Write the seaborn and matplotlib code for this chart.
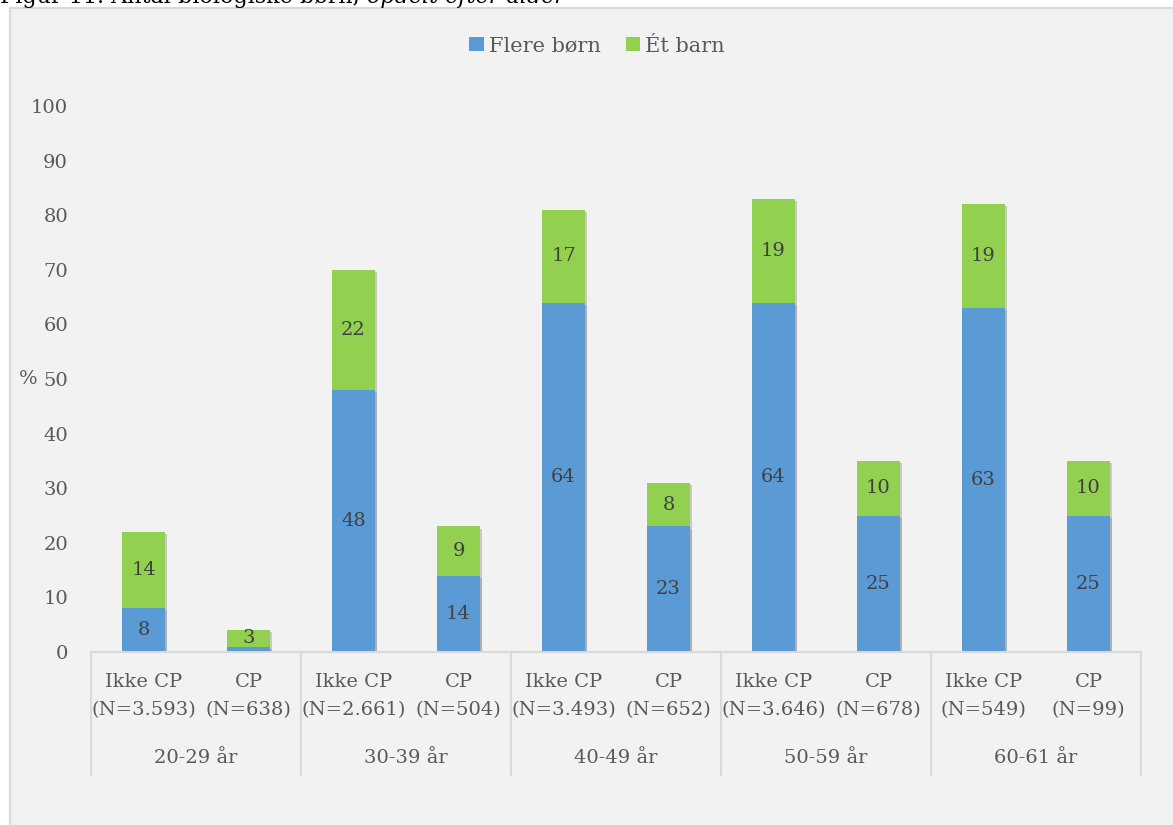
import matplotlib
matplotlib.use("Agg")
import matplotlib.pyplot as plt
import matplotlib.patheffects as pe
from matplotlib.patches import Patch, Rectangle
from matplotlib.lines import Line2D
import pandas as pd
import seaborn as sns

# ---- data -------------------------------------------------------------
age_groups = ["20-29 år", "30-39 år", "40-49 år", "50-59 år", "60-61 år"]
status = ["Ikke CP", "CP"]
n_labels = ["(N=3.593)", "(N=638)", "(N=2.661)", "(N=504)", "(N=3.493)",
            "(N=652)", "(N=3.646)", "(N=678)", "(N=549)", "(N=99)"]
flere_born = [8, 1, 48, 14, 64, 23, 64, 25, 63, 25]
et_barn = [14, 3, 22, 9, 17, 8, 19, 10, 19, 10]
y_ticks = [0, 10, 20, 30, 40, 50, 60, 70, 80, 90, 100]
series_names = ["Flere børn", "Ét barn"]
title_plain = "Figur 11. Antal biologiske børn, "
title_italic = "opdelt efter alder"

# ---- style ------------------------------------------------------------
BLUE = "#5B9BD5"
GREEN = "#92D050"
TEXT = "#595959"
LABEL = "#404040"
GRID = "#D9D9D9"
BG = "#F2F2F2"
FS = 14

sns.set_theme(style="white")
plt.rcParams["font.family"] = ["DejaVu Serif"]

slots = [f"{g}|{s}" for g in age_groups for s in status]
df = pd.DataFrame({
    "slot": slots,
    "flere": flere_born,
    "et": et_barn,
})
df["total"] = df["flere"] + df["et"]

W, H = 1173, 825
fig = plt.figure(figsize=(W / 100, H / 100), dpi=100, facecolor="white")

# chart area panel (behind the axes)
panel = Rectangle((10 / W, -0.01), 1.0, (H - 8) / H + 0.01,
                  transform=fig.transFigure, facecolor=BG,
                  edgecolor=GRID, linewidth=1.5, zorder=-10)
fig.patches.append(panel)

ax = fig.add_axes([91 / W, (H - 652) / H, 1050 / W, (652 - 106) / H])
ax.set_facecolor(BG)
ax.set_zorder(1)

shadow = [pe.SimplePatchShadow(offset=(1.5, -1.5), shadow_rgbFace="#7f7f7f",
                               alpha=0.35), pe.Normal()]

# stacked bars: totals (green) behind, blue segment in front
sns.barplot(data=df, x="slot", y="total", order=slots, color=GREEN,
            saturation=1, width=0.41, errorbar=None, ax=ax)
sns.barplot(data=df, x="slot", y="flere", order=slots, color=BLUE,
            saturation=1, width=0.41, errorbar=None, ax=ax)
for p in ax.patches:
    p.set_path_effects(shadow)
    p.set_linewidth(0)

ax.set_xlim(-0.5, len(slots) - 0.5)
ax.set_ylim(0, 100)
ax.set_yticks(y_ticks)
ax.set_yticklabels([str(t) for t in y_ticks], color=TEXT, fontsize=FS)
ax.tick_params(axis="y", length=0, pad=16.5)
ax.set_xticks([])
ax.set_xlabel("")
ax.set_ylabel("%", rotation=0, color=TEXT, fontsize=FS, ha="right", va="center")
ax.yaxis.set_label_coords(-0.051, 0.5)
for side in ["left", "right", "top"]:
    ax.spines[side].set_visible(False)
ax.spines["bottom"].set_color(GRID)
ax.spines["bottom"].set_linewidth(1.5)

# value labels centred in each segment
for i, (b, g) in enumerate(zip(flere_born, et_barn)):
    if b >= 3:
        ax.text(i, b / 2, str(b), ha="center", va="center", color=LABEL,
                fontsize=FS)
    ax.text(i, b + g / 2, str(g), ha="center", va="center", color=LABEL,
            fontsize=FS)

# two-level category axis
trans = ax.get_xaxis_transform()
def fy(px):
    return 1 - (px - 106) / (652 - 106)

for i, slot in enumerate(slots):
    s = slot.split("|")[1]
    ax.text(i, fy(682), s, transform=trans, ha="center", va="center",
            color=TEXT, fontsize=FS, clip_on=False)
    ax.text(i, fy(710), n_labels[i], transform=trans, ha="center",
            va="center", color=TEXT, fontsize=FS, clip_on=False)
for k, g in enumerate(age_groups):
    ax.text(2 * k + 0.5, fy(758), g, transform=trans, ha="center",
            va="center", color=TEXT, fontsize=FS, clip_on=False)
for k in range(len(age_groups) + 1):
    ax.add_line(Line2D([2 * k - 0.5, 2 * k - 0.5], [fy(652), fy(775)],
                       transform=trans, color=GRID, linewidth=1.5,
                       clip_on=False))

# legend
handles = [Patch(facecolor=BLUE, edgecolor="none"),
           Patch(facecolor=GREEN, edgecolor="none")]
leg = fig.legend(handles, series_names, loc="center", ncol=2,
                 bbox_to_anchor=(597 / W, 1 - 46 / H), frameon=False,
                 fontsize=15, handlelength=0.68, handleheight=0.68,
                 handletextpad=0.25, columnspacing=1.2)
for t in leg.get_texts():
    t.set_color(TEXT)

# figure caption, partly above the chart panel
t1 = fig.text(0.0, 1 - 2.5 / H, title_plain, ha="left", va="baseline",
              fontsize=16, color="black")
fig.canvas.draw()
bb = t1.get_window_extent()
fig.text(bb.x1 / W, 1 - 2.5 / H, title_italic, ha="left", va="baseline",
         fontsize=16, color="black", style="italic")

fig.savefig("out.png", dpi=100, facecolor="white")
